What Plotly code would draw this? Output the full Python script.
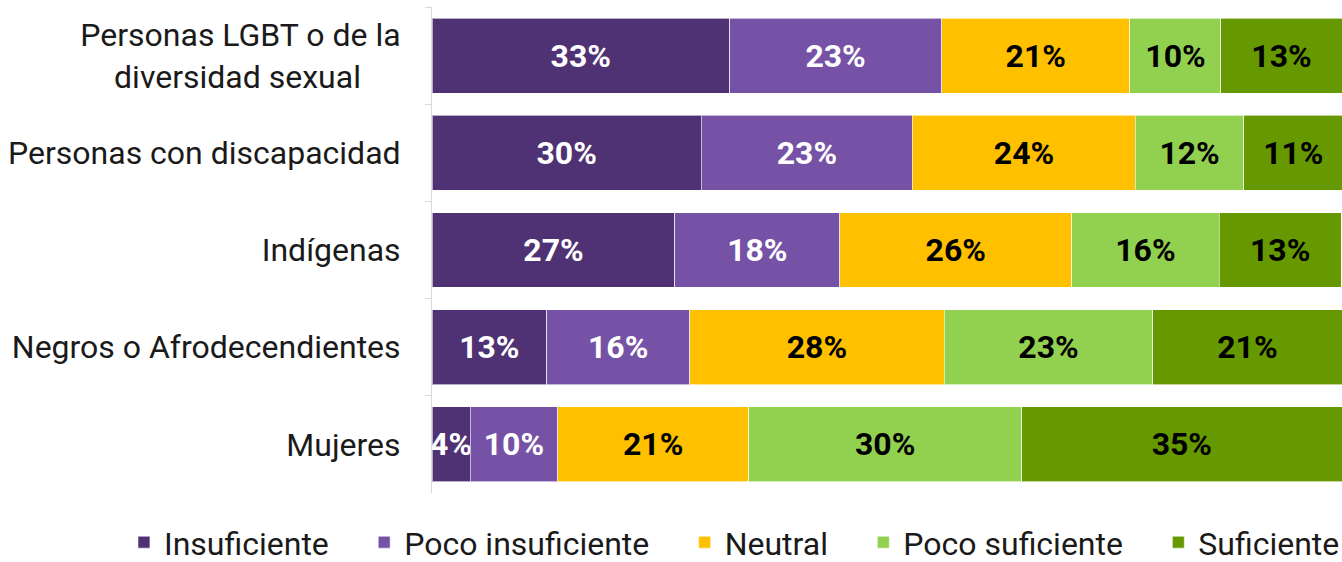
import plotly.graph_objects as go

NB = "\u00a0"
categories = ["Personas LGBT o de la<br>diversidad sexual" + NB * 5, "Personas con discapacidad",
              "Indígenas", "Negros o Afrodecendientes", "Mujeres"]
series_names = ["Insuficiente", "Poco insuficiente", "Neutral", "Poco suficiente", "Suficiente"]
insuficiente = [32.7, 29.6, 26.7, 12.6, 4.2]
poco_insuficiente = [23.3, 23.2, 18.1, 15.7, 9.6]
neutral = [20.7, 24.5, 25.5, 28.0, 21.0]
poco_suficiente = [10.0, 11.9, 16.2, 22.9, 30.0]
suficiente = [13.3, 10.9, 13.4, 20.8, 35.2]
series_values = [insuficiente, poco_insuficiente, neutral, poco_suficiente, suficiente]
colors = ["#4F3273", "#7652A6", "#FFC000", "#92D050", "#669900"]
text_colors = ["white", "white", "black", "black", "black"]

fig = go.Figure()
for i, (name, vals, col, tcol) in enumerate(zip(series_names, series_values, colors, text_colors)):
    legend_name = name if i == len(series_names) - 1 else name + NB * 3 + "\u2009"
    fig.add_trace(go.Bar(
        y=categories, x=vals, name=legend_name, orientation="h",
        marker=dict(color=col, line=dict(color="rgba(255,255,255,0.6)", width=1)),
        text=[f"{round(v)}%" for v in vals],
        textposition="inside", insidetextanchor="middle", constraintext="none",
        textangle=0,
        textfont=dict(family="Roboto", size=32, color=tcol, weight="bold"),
        hoverinfo="skip",
    ))

fig.update_layout(
    barmode="stack",
    bargap=0.23,
    width=1342, height=562,
    margin=dict(l=432, r=0, t=7, b=69, autoexpand=False),
    plot_bgcolor="white", paper_bgcolor="white",
    font=dict(family="Roboto", size=32, color="#1a1a1a"),
    legend=dict(orientation="h", x=-0.3385, xanchor="left",
                y=-0.045, yanchor="top", font=dict(size=32, color="#1a1a1a"),
                traceorder="normal"),
    showlegend=True,
)
fig.update_xaxes(range=[0, 100], visible=False, showgrid=False)
fig.update_yaxes(autorange="reversed", showline=True, linecolor="#d9d9d9", linewidth=1,
                 ticks="outside", tickson="boundaries", ticklen=6, tickcolor="#d9d9d9",
                 ticklabelstandoff=24, showgrid=False, tickfont=dict(size=32, color="#1a1a1a"))

fig.write_html("out.html", config={"displayModeBar": False},
               post_script="document.body.style.margin='0';")
